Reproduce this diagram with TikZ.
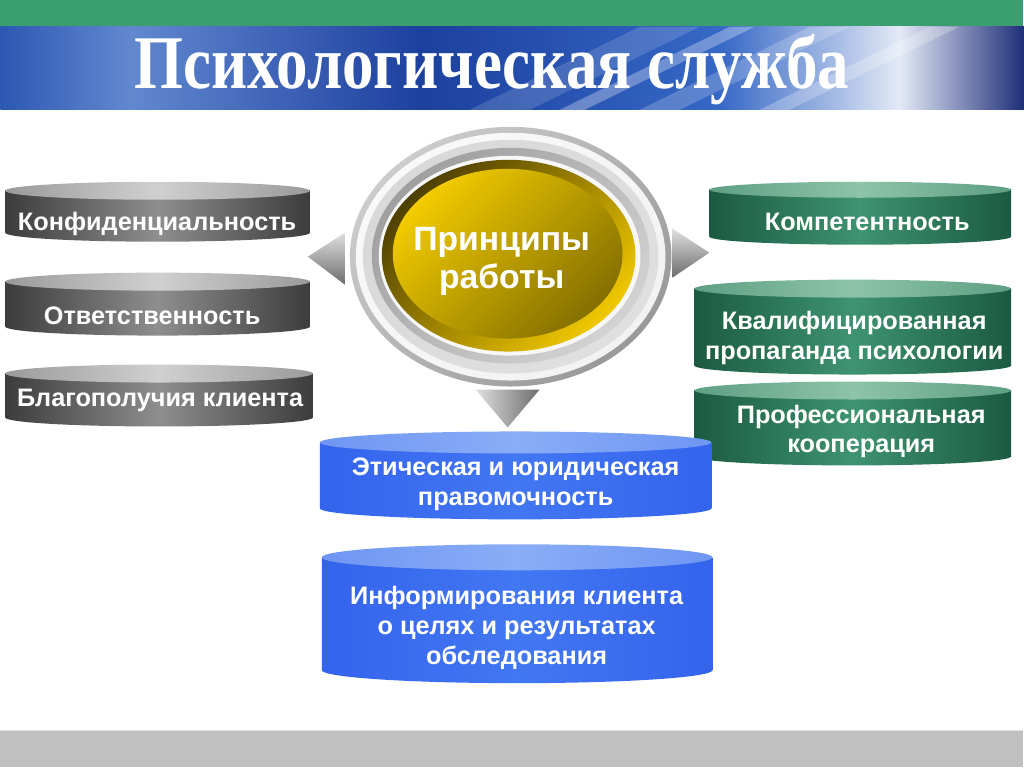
\documentclass[tikz,border=0pt]{standalone}
\usepackage{fontspec}
\setmainfont{Liberation Sans}
\newfontfamily\titlefont[FakeStretch=0.83]{Liberation Serif}
\definecolor{bandgreen}{HTML}{3A9E6E}
\definecolor{footgrey}{HTML}{C0C0C0}
\definecolor{hdA}{HTML}{2C58B2}
\definecolor{hdB}{HTML}{6288D0}
\definecolor{hdC}{HTML}{1C409E}
\definecolor{hdD}{HTML}{3668C6}
\definecolor{hdE}{HTML}{E4EAF6}
\definecolor{hdF}{HTML}{1E2E78}
\definecolor{greyD}{HTML}{3C3C3C}
\definecolor{greyM}{HTML}{8E8E8E}
\definecolor{greyT}{HTML}{9A9A9A}
\definecolor{greyL}{HTML}{D0D0D0}
\definecolor{greenD}{HTML}{1B5A41}
\definecolor{greenM}{HTML}{3E9372}
\definecolor{greenT}{HTML}{5E9F83}
\definecolor{greenL}{HTML}{8DC4A9}
\definecolor{blueD}{HTML}{3463EC}
\definecolor{blueM}{HTML}{4277F3}
\definecolor{blueT}{HTML}{6E96F2}
\definecolor{blueL}{HTML}{8AADF7}
\definecolor{goldA}{HTML}{F2CB00}
\definecolor{goldB}{HTML}{857000}
\definecolor{rimA}{HTML}{4E4000}
\definecolor{rimB}{HTML}{F0C800}

\begin{document}
\begin{tikzpicture}[x=0.025cm, y=-0.025cm,
	lbl/.style={text=white, font=\bfseries\fontsize{18}{21.3}\selectfont, align=center, inner sep=0pt},
	ctr/.style={text=white, font=\bfseries\fontsize{24}{27}\selectfont, align=center, inner sep=0pt},
	titl/.style={text=white, font=\titlefont\bfseries\fontsize{54}{56}\selectfont, inner sep=0pt, anchor=base}]
	\fill[white] (0,0) rectangle (1024,768);
	% header bands
	\fill[bandgreen] (0,0) rectangle (1024,27);
	\foreach \xa/\xb/\ca/\cb in {0/130/hdA/hdB, 130/420/hdB/hdC, 420/720/hdC/hdD, 720/900/hdD/hdE, 900/1024/hdE/hdF}
		{\shade[left color=\ca, right color=\cb] (\xa,27) rectangle ({\xb+1},110);}
	\begin{scope}
		\clip (0,27) rectangle (1024,110);
		\foreach \xs/\w/\op in {470/60/0.15, 560/25/0.3, 640/40/0.2, 760/30/0.25}
			{\fill[white, opacity=\op] (\xs,110) -- ({\xs+\w},110) -- ({\xs+\w+170},27) -- ({\xs+170},27) -- cycle;}
	\end{scope}
	\node[titl] (title) at (492,89) {Психологическая служба};
	\fill[footgrey] (0,731) rectangle (1024,768);
	\draw[gray!25] (0,731) -- (1024,731);
	% cylinders
	\foreach \xa/\xb/\yt/\yb/\ry/\tone in {5/310/191/233/9/grey, 5/310/282/327/9/grey, 5/313/374/418/9/grey, 710/1012/190/237/8/green, 695/1012/289/366/9/green, 695/1012/391/457/9/green, 320/712/443/509/11/blue, 322/713/558/671/13/blue} {
		\shade[left color=\tone D, right color=\tone D, middle color=\tone M] ({(\xa+\xb)/2},\yb) ellipse [x radius={(\xb-\xa)/2}, y radius=\ry];
		\shade[left color=\tone D, right color=\tone D, middle color=\tone M] (\xa,\yt) rectangle (\xb,\yb);
		\shade[left color=\tone T, right color=\tone T, middle color=\tone L] ({(\xa+\xb)/2},\yt) ellipse [x radius={(\xb-\xa)/2}, y radius=\ry];
	}
	% ring
	\shade[top color=gray!40, bottom color=gray!80, shading angle=45] (511,257) ellipse [x radius=161, y radius=130];
	\shade[top color=gray!5, bottom color=gray!10, shading angle=45] (511,257) ellipse [x radius=155, y radius=124];
	\shade[top color=gray!30, bottom color=gray!25, shading angle=45] (511,257) ellipse [x radius=148, y radius=117];
	\shade[top color=gray!75, bottom color=gray!35, shading angle=45] (511,256) ellipse [x radius=139, y radius=108];
	\fill[gray!6] (510,256) ellipse [x radius=131, y radius=100];
	\shade[top color=rimA, bottom color=rimB, shading angle=45] (509,256) ellipse [x radius=127, y radius=96];
	\shade[top color=goldA, bottom color=goldB, shading angle=45] (508,254) ellipse [x radius=115, y radius=85];
	% triangles
	\shade[top color=gray!25, bottom color=gray!85!black] (345,233) -- (308,257) -- (345,285) -- cycle;
	\shade[top color=gray!25, bottom color=gray!85!black] (673,229) -- (710,253) -- (673,278) -- cycle;
	\shade[left color=gray!25, right color=gray!85!black] (476,390) -- (540,390) -- (508,428) -- cycle;
	\node[ctr] (princ) at (502,262) {Принципы\\работы};
	\node[lbl] (konf) at (157,224) {Конфиденциальность};
	\node[lbl] (otv) at (152,316) {Ответственность};
	\node[lbl] (blago) at (160,401) {Благополучия клиента};
	\node[lbl] (komp) at (868,222) {Компетентность};
	\node[lbl] (kval) at (855,338) {Квалифицированная\\пропаганда психологии};
	\node[lbl] (prof) at (862,432) {Профессиональная\\кооперация};
	\node[lbl] (etich) at (516,485) {Этическая и юридическая\\правомочность};
	\node[lbl] (inform) at (517,629) {Информирования клиента\\о целях и результатах\\обследования};
\end{tikzpicture}
\end{document}
